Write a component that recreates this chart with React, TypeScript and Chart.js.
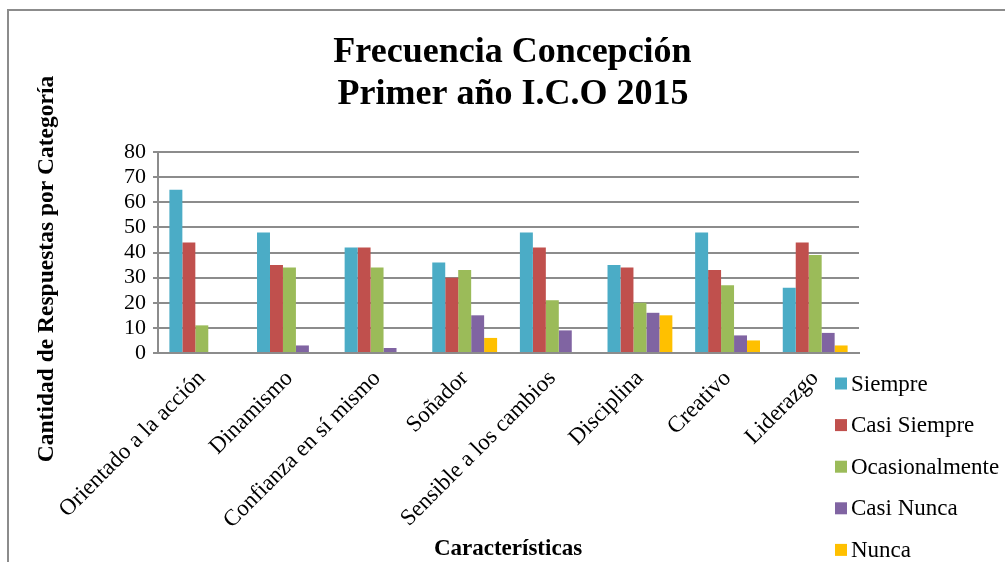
import React, { useEffect, useRef } from "react";
import { Chart, registerables } from "chart.js";

Chart.register(...registerables);

const categories = [
  "Orientado a la acción",
  "Dinamismo",
  "Confianza en sí mismo",
  "Soñador",
  "Sensible a los cambios",
  "Disciplina",
  "Creativo",
  "Liderazgo",
];

const siempre = [65, 48, 42, 36, 48, 35, 48, 26];
const casiSiempre = [44, 35, 42, 30, 42, 34, 33, 44];
const ocasionalmente = [11, 34, 34, 33, 21, 20, 27, 39];
const casiNunca = [0, 3, 2, 15, 9, 16, 7, 8];
const nunca = [0, 0, 0, 6, 0, 15, 5, 3];

const seriesNames = ["Siempre", "Casi Siempre", "Ocasionalmente", "Casi Nunca", "Nunca"];
const seriesColors = ["#4BACC6", "#C0504D", "#9BBB59", "#8064A2", "#FFC000"];

const titleLines = ["Frecuencia Concepción", "Primer año I.C.O 2015"];
const yTitle = "Cantidad de Respuestas por Categoría";
const xTitle = "Características";

const SERIF = "'Liberation Serif', 'Times New Roman', serif";

const decorPlugin = {
  id: "decor",
  afterDraw(chart: any) {
    const ctx = chart.ctx as CanvasRenderingContext2D;
    ctx.save();
    ctx.fillStyle = "#000";
    // Title
    ctx.font = `bold 36px ${SERIF}`;
    ctx.textAlign = "center";
    ctx.textBaseline = "alphabetic";
    ctx.fillText(titleLines[0], 512.5, 62);
    ctx.fillText(titleLines[1], 513, 103.5);
    // Y title
    ctx.save();
    ctx.translate(53, 269);
    ctx.rotate(-Math.PI / 2);
    ctx.font = `bold 23.5px ${SERIF}`;
    ctx.textAlign = "center";
    ctx.fillText(yTitle, 0, 0);
    ctx.restore();
    // X title
    ctx.font = `bold 23px ${SERIF}`;
    ctx.textAlign = "center";
    ctx.fillText(xTitle, 508, 555);
    // Legend
    ctx.font = `23px ${SERIF}`;
    ctx.textAlign = "left";
    ctx.textBaseline = "middle";
    chart.data.datasets.forEach((ds: any, i: number) => {
      const cy = 383.5 + i * 41.6;
      ctx.fillStyle = ds.backgroundColor;
      ctx.fillRect(835, cy - 6, 12, 12);
      ctx.fillStyle = "#000";
      ctx.fillText(ds.label, 851, cy + 1);
    });
    ctx.restore();
  },
};

export default function App() {
  const ref = useRef<HTMLCanvasElement | null>(null);
  useEffect(() => {
    document.body.style.margin = "0";
    document.body.style.overflow = "hidden";
    const allData = [siempre, casiSiempre, ocasionalmente, casiNunca, nunca];
    const chart = new Chart(ref.current as HTMLCanvasElement, {
      type: "bar",
      data: {
        labels: categories,
        datasets: allData.map((d, i) => ({
          label: seriesNames[i],
          data: d,
          backgroundColor: seriesColors[i],
          borderWidth: 0,
          categoryPercentage: 0.74,
          barPercentage: 1,
        })),
      },
      options: {
        responsive: false,
        animation: false,
        devicePixelRatio: 1,
        layout: { padding: { top: 152, right: 146, left: 0, bottom: 0 } },
        plugins: {
          legend: { display: false },
          title: { display: false },
          tooltip: { enabled: false },
        },
        scales: {
          y: {
            min: 0,
            max: 80,
            ticks: {
              stepSize: 10,
              autoSkip: false,
              color: "#000",
              padding: 7,
              font: { family: SERIF, size: 22 },
            },
            grid: { color: "#8c8c8c", lineWidth: 2, tickLength: 5, drawTicks: true },
            border: { display: true, color: "#8c8c8c", width: 2 },
            afterFit: (s: any) => {
              s.width = 158;
            },
          },
          x: {
            ticks: {
              color: "#000",
              minRotation: 45,
              maxRotation: 45,
              autoSkip: false,
              padding: 12,
              font: { family: SERIF, size: 23 },
            },
            grid: { display: false, drawTicks: false },
            border: { display: true, color: "#8c8c8c", width: 2 },
            afterFit: (s: any) => {
              s.height = 209;
            },
          },
        },
      },
      plugins: [decorPlugin],
    });
    return () => chart.destroy();
  }, []);
  return (
    <div style={{ position: "relative", width: 1005, height: 562, overflow: "hidden" }}>
      <canvas ref={ref} width={1005} height={562} style={{ position: "absolute", left: 0, top: 0 }} />
      <div
        style={{
          position: "absolute",
          left: 7,
          top: 9,
          width: 1100,
          height: 700,
          borderLeft: "2px solid #8c8c8c",
          borderTop: "2px solid #8c8c8c",
          pointerEvents: "none",
        }}
      />
    </div>
  );
}
